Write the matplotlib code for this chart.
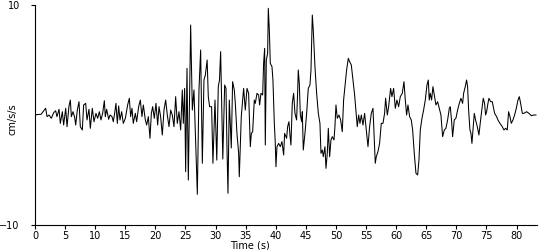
import numpy as np
import matplotlib
matplotlib.use("Agg")
import matplotlib.pyplot as plt

# time (s) and acceleration (cm/s/s)
t_a = [0, 0.5, 1.0, 1.33, 1.77, 2.0, 2.33, 2.71, 3.1, 3.43, 3.65, 3.99, 4.21, 4.54, 4.76,
       5.1, 5.32, 5.65, 5.87, 6.04, 6.31, 6.59, 6.76, 7.03, 7.31, 7.53, 7.86, 8.08, 8.42,
       8.64, 8.97, 9.19, 9.52, 9.8]
v_a = [0.0, 0.05, 0.06, 0.3, 0.61, -0.15, 0.0, -0.3, 0.21, 0.39, -0.15, 0.52, -0.76, 0.3, -0.91,
       0.61, -1.06, 0.82, 1.36, -0.15, 0.3, -0.21, -0.91, 0.45, 1.21, -1.06, -1.36, 0.91, 1.06,
       -0.45, 0.52, -1.21, 0.61, -0.61]

t_b = [10.13, 10.41, 10.69, 10.96, 11.24, 11.52, 11.68, 11.9, 12.24, 12.46, 12.79, 13.01, 13.23,
       13.45, 13.68, 13.9, 14.12, 14.4, 14.67, 15.01, 15.39, 15.67, 15.89, 16.11, 16.33, 16.67,
       16.89, 17.22, 17.5, 17.77, 18.0, 18.33, 18.55, 18.83, 19.1, 19.33, 19.55, 19.82, 20.1, 20.38]
v_b = [0.15, -0.3, 0.3, -0.45, 0.15, 1.3, -0.15, 0.52, -0.39, 0.0, -0.15, -0.61, 0.15,
       1.06, -0.76, 0.82, -0.45, 0.3, -0.76, -0.3, 0.91, 1.52, -0.15, 0.61, -0.76, 0.15,
       -0.61, 0.76, 1.36, -0.15, 0.91, -0.45, -0.91, -0.15, -2.12, 0.15, 0.76, -0.3, 1.06, -0.91]

t_c = [20.6, 20.87, 21.15, 21.43, 21.71, 21.98, 22.26, 22.54, 22.81, 23.09, 23.37, 23.64, 23.92,
       24.2, 24.47, 24.64, 24.86, 25.03, 25.25, 25.47, 25.86, 26.14, 26.41, 26.69, 26.97, 27.24,
       27.52, 27.8, 28.07, 28.3, 28.6, 28.79, 29.01, 29.34, 29.56, 29.9, 30.2, 30.45, 30.65, 30.84,
       31.2]
v_c = [0.76, -0.15, -1.82, 0.45, 1.36, 0.0, -1.06, 0.45, 0.0, -1.06, 1.67, -0.76, 0.3,
       -1.36, 2.27, -0.76, 2.42, -5.15, 4.24, -5.91, 8.18, 0.45, 2.27, -2.58, -7.21, 2.27,
       5.91, -4.39, 3.18, 3.64, 5.0, 1.67, 0.76, 0.76, -4.39, 1.36, -4.1, 2.58, 3.18, 5.76,
       -4.0]

t_d = [31.51, 31.73, 31.89, 32.06, 32.28, 32.61, 32.83, 33.11, 33.28, 33.55, 33.83, 33.94, 34.11,
       34.27, 34.5, 34.66, 34.94, 35.22, 35.49, 35.77, 35.94, 36.16, 36.43, 36.6, 36.88, 37.15,
       37.32, 37.54, 37.82, 37.98, 38.15, 38.26, 38.43, 38.65, 38.76, 38.93, 39.09, 39.37, 39.53,
       39.76, 39.92, 40.03, 40.2, 40.48, 40.75, 41.03, 41.31, 41.47]
v_d = [2.73, 2.42, -2.88, -7.12, 1.36, -3.0, 3.03, 2.27, 1.06, -1.67, -3.48, -5.61, -2.88,
       -0.15, 1.36, 2.42, 0.45, 2.42, 1.97, -2.88, -1.67, -1.52, 1.36, 1.06, 1.97, 1.82,
       0.91, 1.97, 1.82, 4.7, 6.06, -2.73, 5.0, 5.61, 9.7, 7.73, 4.7, 4.39, 3.18,
       -0.76, -2.58, -4.7, -2.88, -2.58, -2.88, -2.42, -3.64, -1.67]

t_e = [41.8, 41.97, 42.19, 42.36, 42.52, 42.74, 42.97, 43.19, 43.46, 43.63, 43.74, 43.91, 44.08,
       44.3, 44.41, 44.57, 44.85, 45.13, 45.4, 45.68, 45.85, 46.07, 46.23, 46.51, 46.79, 47.07,
       47.34, 47.51, 47.73, 47.9, 48.17, 48.34, 48.56, 48.73, 48.95, 49.17, 49.39, 49.67, 49.83,
       50.0, 50.22, 50.5, 50.78, 51.05, 51.27, 51.5, 51.77, 52.05]
v_e = [-2.12, -1.06, -0.61, -1.82, -2.73, 1.06, 1.97, 0.15, -0.45, 1.97, 4.09, 2.88, 0.0,
       -0.61, 0.3, -3.18, -1.67, 0.15, 2.42, 2.73, 4.09, 9.09, 7.73, 4.39, 1.97, 0.15,
       -0.76, -3.48, -3.18, -3.79, -2.88, -4.85, -3.48, -1.21, -3.79, -2.27, -1.97, -2.27, -1.06,
       0.91, -0.3, 0.0, -0.45, -1.52, 1.36, 2.58, 4.09, 5.15]

t_f = [52.27, 52.55, 52.82, 53.1, 53.38, 53.54, 53.77, 53.99, 54.21, 54.49, 54.76, 55.04, 55.32,
       55.59, 55.87, 56.15, 56.31, 56.53, 56.7, 56.98, 57.25, 57.53, 57.81, 58.08, 58.25, 58.53,
       58.75, 59.08, 59.3, 59.58, 59.86, 60.13, 60.41, 60.69, 61.02, 61.3, 61.52, 61.74, 61.96,
       62.24, 62.51]
v_f = [4.85, 4.55, 3.18, 1.82, 0.0, -1.06, 0.0, -0.76, 0.0, -0.91, 0.15, -1.36, -2.88,
       -1.06, 0.15, 0.61, -1.52, -4.39, -3.79, -3.33, -2.58, -0.76, -0.76, 0.15, 1.52, 0.0,
       0.76, 2.42, 1.67, 2.42, 0.61, 1.36, 0.76, 1.67, 1.97, 3.03, 1.36, 0.0, 0.91,
       -0.15, -0.45]

t_g = [62.74, 63.01, 63.29, 63.57, 63.79, 64.01, 64.29, 64.56, 64.84, 65.12, 65.34, 65.5, 65.67,
       65.89, 66.11, 66.33, 66.61, 66.89, 67.17, 67.44, 67.72, 68.0, 68.27, 68.55, 68.83, 68.99,
       69.22, 69.38, 69.66, 69.93, 70.21, 70.49, 70.76, 71.04, 71.21, 71.48, 71.7, 71.87, 72.04,
       72.26, 72.43, 72.59, 72.81, 72.98]
v_g = [-1.36, -3.48, -5.3, -5.45, -4.09, -1.36, -0.3, 0.45, 1.36, 2.73, 3.18, 1.36, 1.97,
       1.36, 2.58, 1.82, 0.91, 1.21, 0.61, 0.0, -1.97, -1.36, -1.21, -0.45, 0.61, 0.76,
       -0.61, -1.97, -0.45, -0.3, 0.45, 1.06, 1.52, 1.06, 1.97, 2.58, 3.18, 2.58, 0.45,
       -1.36, -1.67, -2.58, -1.06, 0.15]

t_h = [73.2, 73.48, 73.75, 74.03, 74.31, 74.47, 74.69, 74.86, 75.03, 75.25, 75.42, 75.69, 75.97,
       76.14, 76.36, 76.69, 76.91, 77.24, 77.63, 77.91, 78.18, 78.46, 78.68, 78.91, 79.13, 79.41,
       79.68, 79.96, 80.24, 80.46, 80.68, 80.96, 81.23, 81.68, 82.06, 82.45, 82.9, 83.23]
v_h = [-0.45, -1.06, -1.82, -0.45, 0.76, 1.52, 1.06, 0.0, 0.3, 1.06, 1.52, 1.21, 1.21,
       0.76, 0.15, -0.15, -0.45, -0.76, -1.06, -1.36, -1.21, -1.36, 0.3, -0.15, -0.76, -0.45,
       0.0, 0.61, 1.36, 1.67, 1.06, 0.15, 0.15, 0.3, 0.15, -0.06, 0.0, 0.0]

time = np.array(t_a + t_b + t_c + t_d + t_e + t_f + t_g + t_h)
accel = np.array(v_a + v_b + v_c + v_d + v_e + v_f + v_g + v_h)

fig = plt.figure(figsize=(5.5, 2.5), dpi=100)
ax = fig.add_axes([35 / 550, 1 - 225 / 250, 502 / 550, 220 / 250])

ax.plot(time, accel, color="black", lw=0.75)

ax.set_xlim(0, 83.4)
ax.set_ylim(-10, 10)
ax.set_xticks(np.arange(0, 81, 5))
ax.set_yticks([-10, 10])
ax.spines["top"].set_visible(False)
ax.spines["right"].set_visible(False)
ax.spines["left"].set_linewidth(0.8)
ax.spines["bottom"].set_linewidth(0.8)
ax.tick_params(axis="x", direction="out", length=3, width=0.8, pad=1.5, labelsize=7)
ax.tick_params(axis="y", direction="out", length=3, width=0.8, pad=8, labelsize=7)

ax.set_xlabel("Time (s)", fontsize=7)
ax.xaxis.set_label_coords(0.428, -0.07)
ax.set_ylabel("cm/s/s", fontsize=7)
ax.yaxis.set_label_coords(-0.035, 0.48)

fig.savefig("out.png", dpi=100)
